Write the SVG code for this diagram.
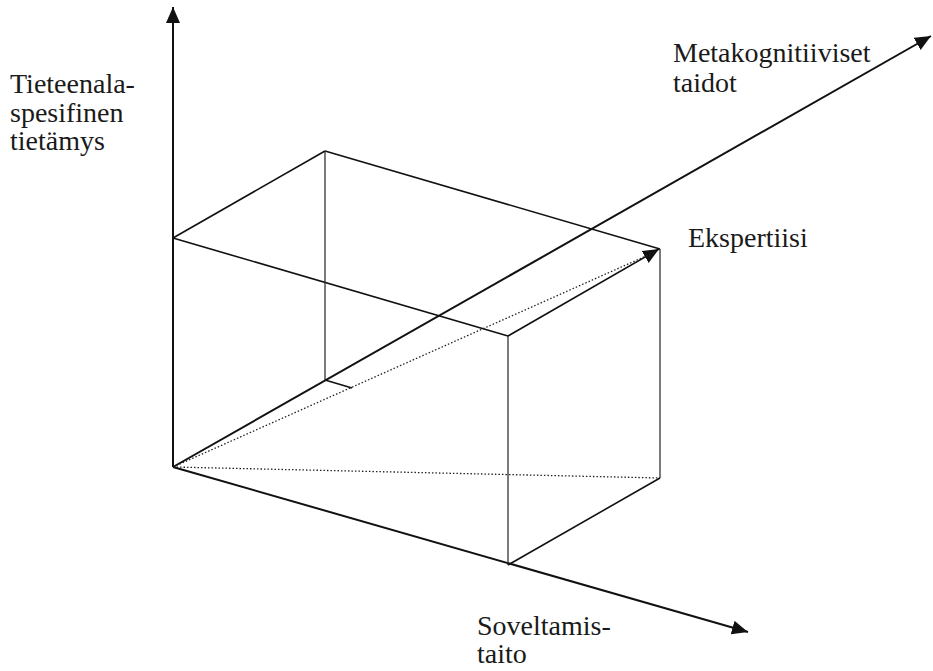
<svg xmlns="http://www.w3.org/2000/svg" width="933" height="671" viewBox="0 0 933 671">
<style>
.lbl{font-family:"Liberation Serif","Times New Roman",serif;font-size:28px;fill:#1a1a1a}
.axis{stroke:#111;stroke-width:2;fill:none}
.edge{stroke:#111;stroke-width:1.6;fill:none}
.thin{stroke:#222;stroke-width:1.2;fill:none}
.dot{stroke:#222;stroke-width:1.3;stroke-dasharray:1.5 2;fill:none}
</style>
<defs>
<marker id="ah" markerUnits="userSpaceOnUse" markerWidth="17" markerHeight="15" refX="16" refY="7" orient="auto">
<path d="M0,0 L16,7 L0,14 z" fill="#111"/>
</marker>
</defs>
<rect width="933" height="671" fill="#fff"/>
<g id="connectors">
<line class="axis" x1="173" y1="467" x2="173" y2="7" marker-end="url(#ah)"/>
<line class="axis" x1="173" y1="467" x2="748" y2="632" marker-end="url(#ah)"/>
<line class="axis" x1="173" y1="467" x2="931" y2="36" marker-end="url(#ah)"/>
<line class="edge" x1="173" y1="238" x2="325" y2="151"/>
<line class="edge" x1="173" y1="238" x2="508" y2="336"/>
<line class="edge" x1="325" y1="151" x2="660" y2="249"/>
<line class="thin" x1="325" y1="151" x2="325" y2="380"/>
<line class="edge" x1="325" y1="380" x2="352" y2="388"/>
<line class="thin" x1="508" y1="336" x2="508" y2="565"/>
<line class="thin" x1="660" y1="249" x2="660" y2="478"/>
<line class="edge" x1="508" y1="565" x2="660" y2="478"/>
<line class="edge" x1="508" y1="336" x2="659" y2="249" marker-end="url(#ah)"/>
<line class="dot" x1="173" y1="467" x2="655" y2="252"/>
<line class="dot" x1="173" y1="467" x2="660" y2="478"/>
</g>
<g id="label-tieteenala">
<text class="lbl" x="10" y="93">Tieteenala-</text>
<text class="lbl" x="10" y="122">spesifinen</text>
<text class="lbl" x="10" y="150">tietämys</text>
</g>
<g id="label-metakognitiiviset">
<text class="lbl" x="673" y="62">Metakognitiiviset</text>
<text class="lbl" x="673" y="92">taidot</text>
</g>
<g id="label-ekspertiisi">
<text class="lbl" x="688" y="247">Ekspertiisi</text>
</g>
<g id="label-soveltamistaito">
<text class="lbl" x="477" y="635">Soveltamis-</text>
<text class="lbl" x="477" y="663">taito</text>
</g>
</svg>
